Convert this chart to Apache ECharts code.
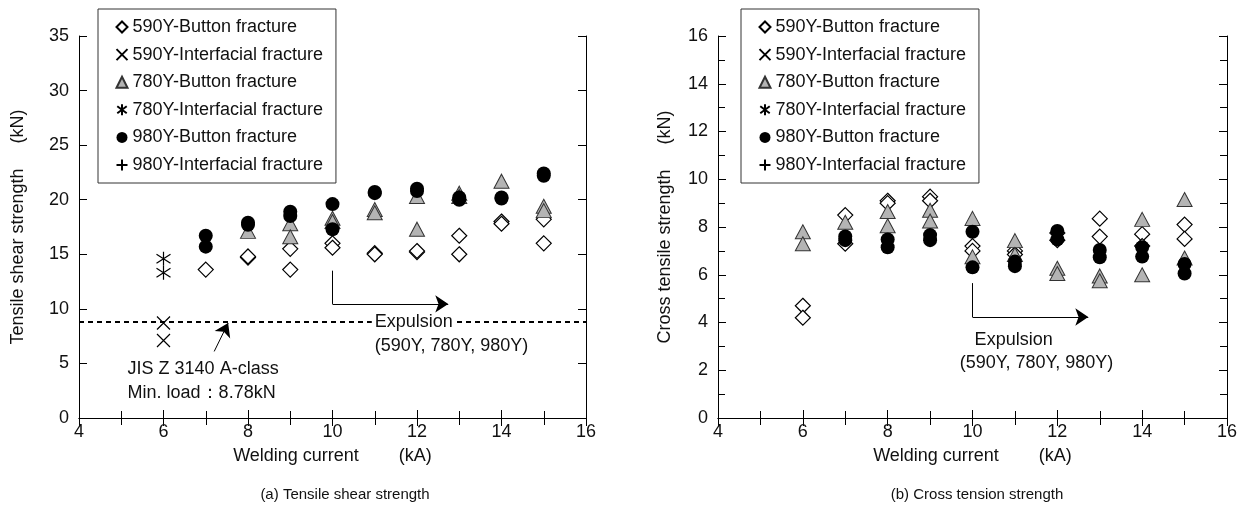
<!DOCTYPE html>
<html>
<head>
<meta charset="utf-8">
<script src="https://cdn.jsdelivr.net/npm/echarts@6/dist/echarts.min.js"></script>
<style>
  html, body { margin: 0; padding: 0; background: #fff; }
  #chart { width: 1250px; height: 509px; }
</style>
</head>
<body>
<div id="chart"></div>
<script>
// series names / legend
const seriesNames = [
  '590Y-Button fracture',
  '590Y-Interfacial fracture',
  '780Y-Button fracture',
  '780Y-Interfacial fracture',
  '980Y-Button fracture',
  '980Y-Interfacial fracture'
]

// (a) tensile shear strength, [current kA, kN]
const a590Button = [[7, 13.6], [8, 14.7], [8, 14.8], [9, 15.5], [9, 13.6], [10, 16.0], [10, 15.6], [11, 15.1], [11, 15.0], [12, 15.2], [12, 15.3], [13, 16.7], [13, 15.0], [14, 18.0], [14, 17.8], [15, 18.2], [15, 16.0]]
const a590Inter = [[6, 8.7], [6, 7.1]]
const a780Button = [[8, 17.1], [9, 17.8], [9, 16.6], [10, 18.3], [10, 18.0], [11, 19.1], [11, 18.8], [12, 20.3], [12, 17.3], [13, 20.6], [13, 20.3], [14, 21.7], [15, 19.4], [15, 19.0]]
const a780Inter = [[6, 14.6], [6, 13.3]]
const a980Button = [[7, 16.7], [7, 15.7], [8, 17.9], [8, 17.7], [9, 18.9], [9, 18.5], [10, 19.6], [10, 17.3], [11, 20.7], [11, 20.6], [12, 21.0], [12, 20.8], [13, 20.0], [13, 20.2], [14, 20.2], [14, 20.1], [15, 22.4], [15, 22.2]]
const a980Inter = []

// (b) cross tension strength
const b590Button = [[6, 4.7], [6, 4.2], [7, 8.5], [7, 7.3], [8, 9.1], [8, 9.0], [9, 9.27], [9, 9.1], [10, 7.2], [10, 7.0], [11, 7.0], [11, 6.85], [12, 7.75], [12, 7.45], [13, 8.35], [13, 7.6], [14, 7.7], [14, 7.2], [15, 8.1], [15, 7.5]]
const b590Inter = []
const b780Button = [[6, 7.8], [6, 7.3], [7, 8.2], [8, 8.65], [8, 8.05], [9, 8.7], [9, 8.25], [10, 8.36], [10, 6.75], [11, 7.43], [11, 6.85], [12, 6.27], [12, 6.05], [13, 5.95], [13, 5.75], [14, 8.32], [14, 6.0], [15, 9.15], [15, 6.7]]
const b780Inter = []
const b980Button = [[7, 7.6], [7, 7.45], [8, 7.48], [8, 7.15], [9, 7.66], [9, 7.45], [10, 7.8], [10, 6.31], [11, 6.55], [11, 6.36], [12, 7.83], [12, 7.48], [13, 7.04], [13, 6.73], [14, 7.15], [14, 6.76], [15, 6.45], [15, 6.05]]
const b980Inter = []

const jisMinLoad = 8.78

const FONT = '"Liberation Sans", Arial, Helvetica, sans-serif'

// marker styles, same order as seriesNames
const markers = [
  { symbol: 'diamond', size: 15, itemStyle: { color: '#fff', borderColor: '#000', borderWidth: 1.2, opacity: 1 } },
  { symbol: 'path://M0,0L10,10M10,0L0,10', size: 13, itemStyle: { color: 'none', borderColor: '#000', borderWidth: 1.2, opacity: 1 } },
  { symbol: 'triangle', size: [15, 14], itemStyle: { color: '#b4b4b4', borderColor: '#333', borderWidth: 1, opacity: 1 } },
  { symbol: 'path://M5,0L5,10M0.7,1.8L9.3,8.2M9.3,1.8L0.7,8.2', size: 14, itemStyle: { color: 'none', borderColor: '#000', borderWidth: 1.2, opacity: 1 } },
  { symbol: 'circle', size: 14, itemStyle: { color: '#000', borderColor: '#000', borderWidth: 0, opacity: 1 } },
  { symbol: 'path://M5,0L5,10M0,5L10,5', size: 13, itemStyle: { color: 'none', borderColor: '#000', borderWidth: 1.2, opacity: 1 } }
]

const chart = echarts.init(document.getElementById('chart'))

const axisText = { fontFamily: FONT, fontSize: 18, color: '#111' }

function xAxes(gridIndex) {
  const base = {
    gridIndex,
    type: 'value',
    min: 4,
    max: 16,
    interval: 2,
    splitLine: { show: false },
    axisLine: { lineStyle: { color: '#000', width: 1 } },
    axisTick: { inside: true, length: 8, lineStyle: { color: '#000' } },
    minorTick: { show: true, splitNumber: 2, length: 7, lineStyle: { color: '#000' } }
  }
  return [
    Object.assign({}, base, {
      position: 'bottom',
      axisLabel: Object.assign({ margin: 5 }, axisText),
      name: 'Welding current        (kA)',
      nameLocation: 'middle',
      nameGap: 29,
      nameTextStyle: axisText
    }),
    Object.assign({}, base, { position: 'top', axisLabel: { show: false } })
  ]
}

function yAxes(gridIndex, max, interval, minor, name, gap) {
  const base = {
    gridIndex,
    type: 'value',
    min: 0,
    max,
    interval,
    splitLine: { show: false },
    axisLine: { lineStyle: { color: '#000', width: 1 } },
    axisTick: { inside: true, length: 8, lineStyle: { color: '#000' } },
    minorTick: { show: minor, splitNumber: 2, length: 7, lineStyle: { color: '#000' } }
  }
  return [
    Object.assign({}, base, {
      position: 'left',
      axisLabel: Object.assign({ margin: 10 }, axisText),
      name,
      nameLocation: 'middle',
      nameGap: gap,
      nameTextStyle: axisText
    }),
    Object.assign({}, base, { position: 'right', axisLabel: { show: false } })
  ]
}

function scatterSeries(dataList, xIdx, yIdx) {
  return dataList.map((d, i) => ({
    name: seriesNames[i],
    type: 'scatter',
    xAxisIndex: xIdx,
    yAxisIndex: yIdx,
    symbol: markers[i].symbol,
    symbolSize: markers[i].size,
    itemStyle: markers[i].itemStyle,
    emphasis: { disabled: true },
    data: d
  }))
}

function legendAt(left) {
  return {
    orient: 'vertical',
    left,
    top: 9,
    padding: [8, 13, 8, 16],
    itemGap: 7.6,
    itemWidth: 11,
    itemHeight: 11,
    backgroundColor: '#fff',
    borderColor: '#333',
    borderWidth: 1,
    borderRadius: 0,
    z: 10,
    selectedMode: false,
    textStyle: { fontFamily: FONT, fontSize: 18, color: '#111', lineHeight: 20 },
    data: seriesNames
  }
}

const arrowStyle = { color: '#000', width: 1, opacity: 1 }

const leftSeries = scatterSeries([a590Button, a590Inter, a780Button, a780Inter, a980Button, a980Inter], 0, 0)
leftSeries[0].markLine = {
  silent: true,
  symbol: 'none',
  label: { show: false },
  lineStyle: { color: '#000', type: [5, 4], width: 1.8 },
  data: [{ yAxis: jisMinLoad }]
}

const rightSeries = scatterSeries([b590Button, b590Inter, b780Button, b780Inter, b980Button, b980Inter], 2, 2)

function segs(xIdx, yIdx, withArrow, coordsList) {
  return {
    type: 'lines',
    coordinateSystem: 'cartesian2d',
    xAxisIndex: xIdx,
    yAxisIndex: yIdx,
    silent: true,
    z: 5,
    symbol: withArrow ? ['none', 'arrow'] : ['none', 'none'],
    symbolSize: [8, 13],
    lineStyle: arrowStyle,
    data: coordsList.map(c => ({ coords: c }))
  }
}

const option = {
  animation: false,
  grid: [
    { left: 79, top: 36, width: 507, height: 382 },
    { left: 718, top: 36, width: 509, height: 382 }
  ],
  legend: [legendAt(98), legendAt(741)],
  xAxis: [...xAxes(0), ...xAxes(1)],
  yAxis: [
    ...yAxes(0, 35, 5, false, 'Tensile shear strength     (kN)', 52),
    ...yAxes(1, 16, 2, true, 'Cross tensile strength     (kN)', 44)
  ],
  title: [
    { text: '(a) Tensile shear strength', left: 340, top: 482, textAlign: 'center', textStyle: { fontFamily: FONT, fontSize: 15, fontWeight: 'normal', color: '#111' } },
    { text: '(b) Cross tension strength', left: 972, top: 482, textAlign: 'center', textStyle: { fontFamily: FONT, fontSize: 15, fontWeight: 'normal', color: '#111' } }
  ],
  series: [
    ...leftSeries,
    ...rightSeries,
    segs(0, 0, false, [[[10, 13.5], [10, 10.45]]]),
    segs(0, 0, true, [[[10, 10.45], [12.74, 10.45]], [[7.2, 6.1], [7.53, 8.7]]]),
    segs(2, 2, false, [[[10, 5.65], [10, 4.23]]]),
    segs(2, 2, true, [[[10, 4.23], [12.73, 4.23]]])
  ]
}

chart.setOption(option)

// text annotations, anchored in data coordinates
const notes = [
  { grid: 0, at: [10.93, 8.78], text: 'Expulsion', bg: true },
  { grid: 0, at: [11.0, 6.6], text: '(590Y, 780Y, 980Y)' },
  { grid: 0, at: [5.15, 4.5], text: 'JIS Z 3140 A-class' },
  { grid: 0, at: [5.15, 2.3], text: 'Min. load\uff1a8.78kN' },
  { grid: 1, at: [10.05, 3.25], text: 'Expulsion' },
  { grid: 1, at: [9.7, 2.3], text: '(590Y, 780Y, 980Y)' }
]

chart.setOption({
  graphic: notes.map(n => {
    const p = chart.convertToPixel({ gridIndex: n.grid }, n.at)
    return {
      type: 'text',
      x: p[0],
      y: p[1],
      z: 100,
      style: {
        text: n.text,
        fontFamily: FONT,
        fontSize: 18,
        fill: '#111',
        verticalAlign: 'middle',
        backgroundColor: n.bg ? '#fff' : null,
        padding: n.bg ? [0, 3] : 0
      }
    }
  })
})
</script>
</body>
</html>
